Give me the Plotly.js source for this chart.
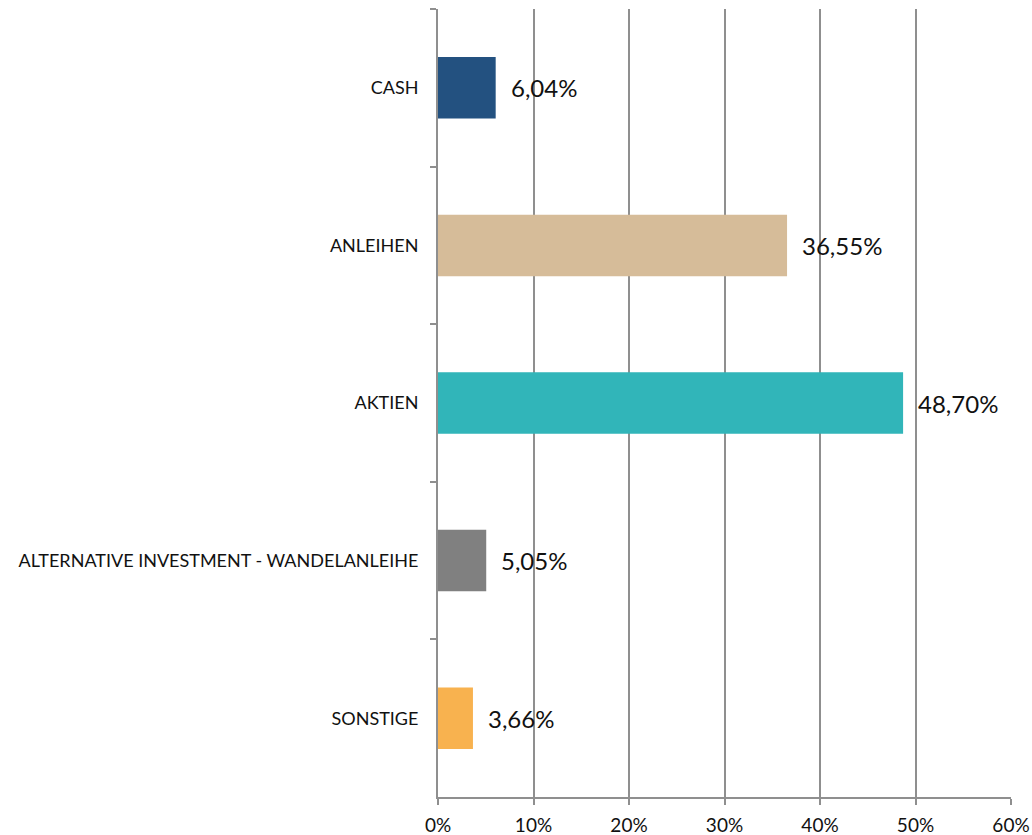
<!DOCTYPE html>
<html>
<head>
<meta charset="utf-8">
<script src="https://cdn.plot.ly/plotly-3.0.1.min.js"></script>
<style>html,body{margin:0;padding:0;background:#fff;}#chart{width:1032px;height:835px;}</style>
</head>
<body>
<div id="chart"></div>
<script>
const categories = ["CASH", "ANLEIHEN", "AKTIEN", "ALTERNATIVE INVESTMENT - WANDELANLEIHE", "SONSTIGE"];
const values = [6.04, 36.55, 48.70, 5.05, 3.66];
const colors = ["#235180", "#D6BC99", "#31B5B9", "#808080", "#F8B24F"];
const tickVals = [0, 10, 20, 30, 40, 50, 60];
const tickText = ["0%", "10%", "20%", "30%", "40%", "50%", "60%"];

const labels = values.map(v => v.toFixed(2).replace('.', ',') + '%');
const FONT = "Lato, 'Open Sans', sans-serif";

const trace = {
  type: 'bar',
  orientation: 'h',
  y: categories,
  x: values,
  marker: { color: colors },
  width: 0.39,
  hoverinfo: 'none'
};

const annotations = values.map((v, i) => ({
  x: v, y: categories[i], xref: 'x', yref: 'y',
  text: labels[i], showarrow: false,
  xanchor: 'left', yanchor: 'middle', xshift: 13,
  font: { family: FONT, size: 24, color: '#111' }
}));

const layout = {
  width: 1032, height: 835,
  margin: { l: 438, r: 21, t: 9, b: 38, pad: 0 },
  paper_bgcolor: '#fff', plot_bgcolor: '#fff',
  showlegend: false,
  font: { family: FONT, color: '#111' },
  xaxis: {
    range: [0, 60], tickvals: tickVals, ticktext: tickText,
    showgrid: true, gridcolor: '#8f8f8f', gridwidth: 2,
    zeroline: false, showline: true, linecolor: '#8f8f8f', linewidth: 2,
    ticks: 'outside', ticklen: 6, tickwidth: 2, tickcolor: '#8f8f8f',
    ticklabelstandoff: 4,
    tickfont: { family: FONT, size: 19, color: '#111' }, fixedrange: true
  },
  yaxis: {
    type: 'category', categoryorder: 'array', categoryarray: categories,
    autorange: 'reversed',
    showline: true, linecolor: '#8f8f8f', linewidth: 2,
    ticks: 'outside', tickson: 'boundaries', ticklen: 6, tickwidth: 2, tickcolor: '#8f8f8f',
    showgrid: false, zeroline: false,
    ticklabelstandoff: 14,
    tickfont: { family: FONT, size: 18, color: '#111' }, fixedrange: true
  },
  annotations: annotations
};

Plotly.newPlot('chart', [trace], layout, { displayModeBar: false, staticPlot: true });
</script>
</body>
</html>
